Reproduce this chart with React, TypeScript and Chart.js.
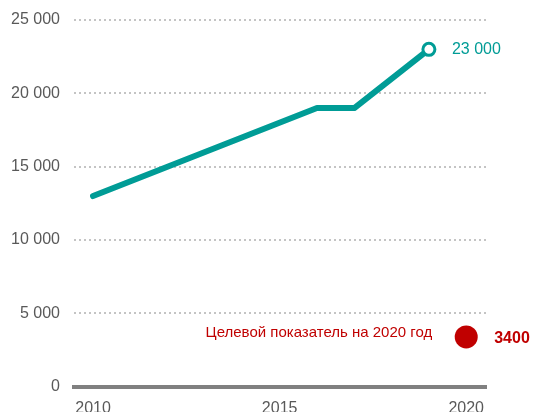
import React, { useEffect, useRef } from "react";
import { Chart, registerables } from "chart.js";

Chart.register(...registerables);

const years = [2010, 2016, 2017, 2019];
const values = [13000, 19000, 19000, 23000];
const targetYears = [2020];
const targetValues = [3400];
const xTickYears = [2010, 2015, 2020];
const lastLabel = "23 000";
const targetText = "Целевой показатель на 2020 год";
const targetLabel = "3400";

const TEAL = "#009C96";
const RED = "#C00000";
const GREY_TEXT = "#595959";
const FONT = "'Liberation Sans', Arial, sans-serif";

const fmt = (v: number) => {
  const s = String(Math.round(v));
  return s.replace(/\B(?=(\d{3})+(?!\d))/g, " ");
};

const labelsPlugin = {
  id: "pointLabels",
  afterDatasetsDraw(chart: any) {
    const ctx = chart.ctx;
    ctx.save();
    const m0 = chart.getDatasetMeta(0);
    const last = m0.data[m0.data.length - 1];
    ctx.font = `16px ${FONT}`;
    ctx.fillStyle = TEAL;
    ctx.textAlign = "left";
    ctx.textBaseline = "middle";
    ctx.fillText(lastLabel, last.x + 23, last.y);

    const m1 = chart.getDatasetMeta(1);
    const p = m1.data[0];
    ctx.fillStyle = RED;
    ctx.font = `15px ${FONT}`;
    ctx.textAlign = "right";
    ctx.fillText(targetText, p.x - 34, p.y - 4);
    ctx.font = `bold 16px ${FONT}`;
    ctx.textAlign = "left";
    ctx.fillText(targetLabel, p.x + 28, p.y + 2);
    ctx.restore();
  },
};

export default function App() {
  const ref = useRef<HTMLCanvasElement>(null);
  useEffect(() => {
    if (!ref.current) return;
    const chart = new Chart(ref.current, {
      type: "line",
      data: {
        datasets: [
          {
            data: years.map((x, i) => ({ x, y: values[i] })),
            borderColor: TEAL,
            borderWidth: 6,
            borderCapStyle: "round",
            borderJoinStyle: "round",
            tension: 0,
            pointRadius: years.map((_, i) => (i === years.length - 1 ? 6 : 0)),
            pointBackgroundColor: "#ffffff",
            pointBorderColor: TEAL,
            pointBorderWidth: 3,
          },
          {
            data: targetYears.map((x, i) => ({ x, y: targetValues[i] })),
            showLine: false,
            pointRadius: 11.5,
            pointBackgroundColor: RED,
            pointBorderColor: RED,
            pointBorderWidth: 0,
          },
        ],
      },
      options: {
        responsive: false,
        animation: false,
        layout: { padding: { left: 11, right: 50, top: 20, bottom: 0 } },
        plugins: { legend: { display: false }, tooltip: { enabled: false } },
        scales: {
          x: {
            type: "linear",
            min: 2009.49,
            max: 2020.53,
            afterBuildTicks: (axis: any) => {
              axis.ticks = xTickYears.map((v) => ({ value: v }));
            },
            ticks: {
              color: GREY_TEXT,
              font: { family: FONT, size: 16 },
              padding: 12,
              maxRotation: 0,
              autoSkip: false,
              callback: (v: any) => String(v),
            },
            grid: { display: false, drawTicks: false },
            border: { display: true, color: "#808080", width: 4 },
          },
          y: {
            min: 0,
            max: 25000,
            afterFit: (axis: any) => {
              axis.width = 63;
              axis.paddingTop = 0;
              axis.paddingBottom = 0;
            },
            ticks: {
              stepSize: 5000,
              color: GREY_TEXT,
              font: { family: FONT, size: 16 },
              padding: 14,
              callback: (v: any) => fmt(Number(v)),
            },
            grid: { color: "#C4C4C4", lineWidth: 2, drawTicks: false },
            border: { display: false, dash: [2, 3] },
          },
        },
      },
      plugins: [labelsPlugin],
    });
    return () => chart.destroy();
  }, []);
  return (
    <div
      style={{
        position: "fixed",
        left: 0,
        top: 0,
        width: 536,
        height: 412,
        overflow: "hidden",
        background: "#fff",
      }}
    >
      <canvas ref={ref} width={536} height={430} style={{ display: "block" }} />
    </div>
  );
}
